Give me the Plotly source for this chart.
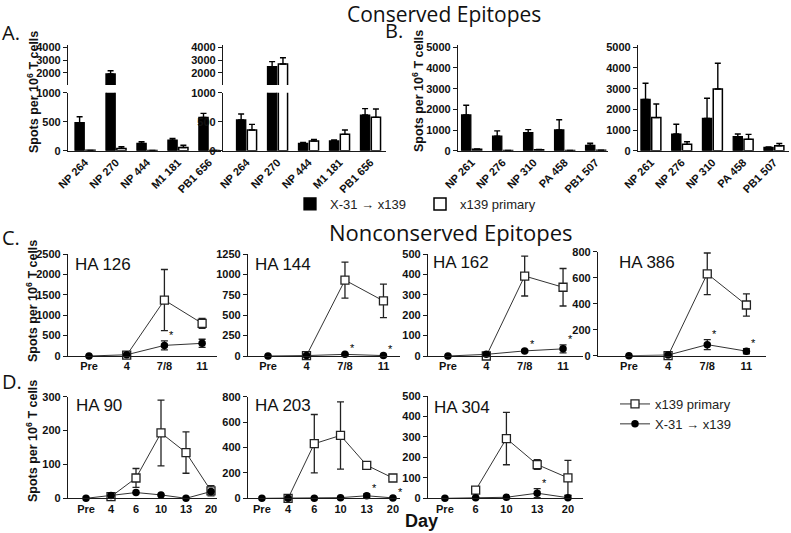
import plotly.graph_objects as go

W, H = 791, 533


def px_x(p):
    return p / W


def px_y(p):
    return 1 - p / H


# ---------------- data ----------------
A_cats = ["NP 264", "NP 270", "NP 444", "M1 181", "PB1 656"]
A1_x31 = [483, 1900, 126, 184, 575]
A1_x31_err = [103, 250, 29, 29, 69]
A1_prim = [6, 40, 4, 55, 4]
A1_prim_err = [0, 29, 0, 40, 0]
A2_x31 = [529, 2470, 126, 167, 615]
A2_x31_err = [103, 400, 18, 17, 110]
A2_prim = [356, 2685, 167, 282, 575]
A2_prim_err = [98, 495, 28, 74, 145]

B_cats = ["NP 261", "NP 276", "NP 310", "PA 458", "PB1 507"]
B1_x31 = [1730, 700, 870, 1000, 260]
B1_x31_err = [470, 260, 150, 500, 100]
B1_prim = [70, 15, 50, 15, 25]
B1_prim_err = [20, 0, 10, 0, 0]
B2_x31 = [2480, 806, 1565, 677, 160]
B2_x31_err = [780, 470, 970, 130, 20]
B2_prim = [1600, 306, 2985, 548, 240]
B2_prim_err = [660, 130, 1240, 240, 110]

A_low_ticks = [0, 500, 1000]
A_up_ticks = [2000, 3000, 4000]
B_ticks = [0, 1000, 2000, 3000, 4000, 5000]

C_days = ["Pre", "4", "7/8", "11"]
HA126_prim = [None, 20, 1370, 800]
HA126_prim_err = [0, 10, 750, 120]
HA126_x31 = [0, 30, 260, 310]
HA126_x31_err = [0, 10, 110, 100]
HA126_stars = ["7/8"]
HA144_prim = [None, 5, 930, 675]
HA144_prim_err = [0, 0, 220, 205]
HA144_x31 = [0, 5, 20, 5]
HA144_x31_err = [0, 0, 10, 5]
HA144_stars = ["7/8", "11"]
HA162_prim = [None, 0, 392, 337]
HA162_prim_err = [0, 0, 98, 92]
HA162_x31 = [0, 8, 25, 35]
HA162_x31_err = [0, 2, 5, 20]
HA162_stars = ["7/8", "11"]
HA386_prim = [None, 0, 630, 390]
HA386_prim_err = [0, 0, 160, 85]
HA386_x31 = [0, 5, 85, 35]
HA386_x31_err = [0, 2, 38, 20]
HA386_stars = ["7/8", "11"]

D_days = ["Pre", "4", "6", "10", "13", "20"]
HA90_prim = [None, 5, 60, 193, 135, 22]
HA90_prim_err = [0, 0, 28, 97, 61, 15]
HA90_x31 = [0, 8, 17, 10, 0, 20]
HA90_x31_err = [0, 0, 0, 0, 0, 0]
HA90_stars = []
HA203_prim = [None, 0, 430, 495, 260, 160]
HA203_prim_err = [0, 0, 230, 265, 22, 15]
HA203_x31 = [0, 0, 0, 5, 20, 3]
HA203_x31_err = [0, 0, 0, 0, 15, 0]
HA203_stars = ["13", "20"]
D2_days = ["Pre", "6", "10", "13", "20"]
HA304_prim = [None, 40, 292, 165, 100]
HA304_prim_err = [0, 0, 128, 24, 85]
HA304_x31 = [0, 3, 5, 25, 3]
HA304_x31_err = [0, 0, 0, 22, 10]
HA304_stars = ["13"]

HA126_ticks = [0, 500, 1000, 1500, 2000, 2500]
HA144_ticks = [0, 250, 500, 750, 1000, 1250]
HA162_ticks = [0, 100, 200, 300, 400, 500]
HA386_ticks = [0, 200, 400, 600, 800]
HA90_ticks = [0, 100, 200, 300]
HA203_ticks = [0, 200, 400, 600, 800]
HA304_ticks = [0, 100, 200, 300, 400, 500]

NAME_X31 = "X-31 \u2192 x139"
NAME_PRIM = "x139 primary"

# ---------------- style ----------------
FONT = "Liberation Sans, Arial, sans-serif"
TITLE_FONT = "Open Sans, Noto Sans, sans-serif"
AXC = "#1a1a1a"
TF = dict(family=FONT, size=11, color="#111111", weight="bold")

fig = go.Figure()
layout = {}


def add_bars(cats, x31, x31e, prim, prime, n, show):
    xa = "x" if n == 1 else "x%d" % n
    ya = "y" if n == 1 else "y%d" % n
    fig.add_trace(go.Bar(
        x=cats, y=x31, xaxis=xa, yaxis=ya, name=NAME_X31,
        marker=dict(color="black", line=dict(color="black", width=1.3)),
        error_y=dict(type="data", array=x31e, arrayminus=[0] * len(x31e), symmetric=False,
                     color="black", thickness=1.4, width=3),
        legend="legend2", legendgroup="bx31", showlegend=show, offsetgroup="a"))
    fig.add_trace(go.Bar(
        x=cats, y=prim, xaxis=xa, yaxis=ya, name=NAME_PRIM,
        marker=dict(color="white", line=dict(color="black", width=1.5)),
        error_y=dict(type="data", array=prime, arrayminus=[0] * len(prime), symmetric=False,
                     color="black", thickness=1.4, width=3),
        legend="legend2", legendgroup="bprim", showlegend=show, offsetgroup="b"))


def add_lines(cats, prim, prime, x31, x31e, n, show):
    xa = "x%d" % n
    ya = "y%d" % n
    fig.add_trace(go.Scatter(
        x=cats, y=prim, xaxis=xa, yaxis=ya, name=NAME_PRIM, mode="lines+markers",
        line=dict(color="#333333", width=1), connectgaps=False,
        marker=dict(symbol="square", size=8, color="white", line=dict(color="#222222", width=1.3)),
        error_y=dict(type="data", array=prime, symmetric=True, color="#222222", thickness=1.3, width=3.5),
        cliponaxis=False, legend="legend", legendgroup="lprim", showlegend=show))
    fig.add_trace(go.Scatter(
        x=cats, y=x31, xaxis=xa, yaxis=ya, name=NAME_X31, mode="lines+markers",
        line=dict(color="#333333", width=1),
        marker=dict(symbol="circle", size=7.5, color="black"),
        error_y=dict(type="data", array=x31e, symmetric=True, color="#222222", thickness=1.3, width=3.5),
        cliponaxis=False, legend="legend", legendgroup="lx31", showlegend=show))


def yaxis(n, top, bottom, rng, ticks, anchor):
    key = "yaxis" if n == 1 else "yaxis%d" % n
    layout[key] = dict(domain=[px_y(bottom), px_y(top)], range=rng, tickvals=ticks,
                       anchor=anchor, showline=True, linecolor=AXC, linewidth=1.3,
                       ticks="outside", ticklen=4, tickwidth=1.3, tickcolor=AXC,
                       tickfont=TF, showgrid=False, zeroline=False, fixedrange=True,
                       automargin=False)


def xaxis(n, left, right, rng, cats, anchor, angle=0, visible=True):
    key = "xaxis" if n == 1 else "xaxis%d" % n
    layout[key] = dict(domain=[px_x(left), px_x(right)], range=rng, type="category",
                       categoryorder="array", categoryarray=cats, anchor=anchor,
                       showline=True, linecolor=AXC, linewidth=1.3, ticks="",
                       tickfont=TF, tickangle=angle, showgrid=False, zeroline=False,
                       visible=visible, fixedrange=True, automargin=False)


# Panel A (broken axes)
add_bars(A_cats, A1_x31, A1_x31_err, A1_prim, A1_prim_err, 1, True)
add_bars(A_cats, A1_x31, A1_x31_err, A1_prim, A1_prim_err, 2, False)
add_bars(A_cats, A2_x31, A2_x31_err, A2_prim, A2_prim_err, 3, False)
add_bars(A_cats, A2_x31, A2_x31_err, A2_prim, A2_prim_err, 4, False)
xaxis(1, 68, 221, [-0.55, 4.39], A_cats, "y", angle=-45)
yaxis(1, 92.7, 150.7, [0, 1000], A_low_ticks, "x")
xaxis(2, 68, 221, [-0.55, 4.39], A_cats, "y2", visible=False)
yaxis(2, 45, 85, [1031, 4181], A_up_ticks, "x2")
xaxis(3, 223, 386, [-0.76, 4.5], A_cats, "y3", angle=-45)
yaxis(3, 92.7, 150.7, [0, 1000], A_low_ticks, "x3")
xaxis(4, 223, 386, [-0.76, 4.5], A_cats, "y4", visible=False)
yaxis(4, 45, 85, [1031, 4181], A_up_ticks, "x4")

# Panel B
add_bars(B_cats, B1_x31, B1_x31_err, B1_prim, B1_prim_err, 5, False)
add_bars(B_cats, B2_x31, B2_x31_err, B2_prim, B2_prim_err, 6, False)
xaxis(5, 458, 608, [-0.44, 4.4], B_cats, "y5", angle=-45)
yaxis(5, 45, 150.7, [0, 5111], B_ticks, "x5")
xaxis(6, 638, 789, [-0.42, 4.49], B_cats, "y6", angle=-45)
yaxis(6, 45, 150.7, [0, 5111], B_ticks, "x6")

# Panels C and D
line_panels = [
    (7, C_days, HA126_prim, HA126_prim_err, HA126_x31, HA126_x31_err, HA126_stars, HA126_ticks,
     (68, 217, [-0.557, 3.395]), (254, 356), "HA 126", (73, 264)),
    (8, C_days, HA144_prim, HA144_prim_err, HA144_x31, HA144_x31_err, HA144_stars, HA144_ticks,
     (248, 400, [-0.52, 3.43]), (254, 356), "HA 144", (253, 264)),
    (9, C_days, HA162_prim, HA162_prim_err, HA162_x31, HA162_x31_err, HA162_stars, HA162_ticks,
     (428, 583, [-0.52, 3.52]), (254, 356), "HA 162", (431, 263)),
    (10, C_days, HA386_prim, HA386_prim_err, HA386_x31, HA386_x31_err, HA386_stars, HA386_ticks,
     (598, 766, [-0.79, 3.5]), (251.7, 355.7), "HA 386", (617, 263)),
    (11, D_days, HA90_prim, HA90_prim_err, HA90_x31, HA90_x31_err, HA90_stars, HA90_ticks,
     (68, 217, [-0.72, 5.24]), (396.7, 498.3), "HA 90", (74, 405)),
    (12, D_days, HA203_prim, HA203_prim_err, HA203_x31, HA203_x31_err, HA203_stars, HA203_ticks,
     (248, 400, [-0.53, 5.27]), (396.7, 498.3), "HA 203", (253, 405)),
    (13, D2_days, HA304_prim, HA304_prim_err, HA304_x31, HA304_x31_err, HA304_stars, HA304_ticks,
     (428, 583, [-0.55, 4.49]), (396, 498.3), "HA 304", (432, 407)),
]

annotations = []
for (n, cats, prim, prime, x31, x31e, stars, ticks, xd, yd, label, lpos) in line_panels:
    add_lines(cats, prim, prime, x31, x31e, n, n == 10)
    xaxis(n, xd[0], xd[1], xd[2], cats, "y%d" % n)
    yaxis(n, yd[0], yd[1], [0, ticks[-1]], ticks, "x%d" % n)
    annotations.append(dict(text=label, x=px_x(lpos[0]), y=px_y(lpos[1]), xref="paper", yref="paper",
                            xanchor="left", yanchor="middle", showarrow=False,
                            font=dict(family=FONT, size=17, color="#111111")))
    for s in stars:
        i = cats.index(s)
        annotations.append(dict(text="*", x=i, y=x31[i] + x31e[i], xref="x%d" % n, yref="y%d" % n,
                                xanchor="left", yanchor="bottom", xshift=3, yshift=-2, showarrow=False,
                                font=dict(family=FONT, size=11, color="#000000")))

# Text labels
ytitle = "Spots per 10<sup>6</sup> T cells"
for (xx, yy) in [(33, 92), (418, 91), (32, 301), (32, 441)]:
    annotations.append(dict(text=ytitle, x=px_x(xx), y=px_y(yy), xref="paper", yref="paper",
                            textangle=-90, showarrow=False, xanchor="center", yanchor="middle",
                            font=dict(family=FONT, size=12.5, color="#111111", weight="bold")))
for (t, xx, yy) in [("A.", 0, 33), ("B.", 383, 31), ("C.", 0, 238), ("D.", 0, 381)]:
    annotations.append(dict(text=t, x=px_x(xx), y=px_y(yy), xref="paper", yref="paper",
                            showarrow=False, xanchor="left", yanchor="middle",
                            font=dict(family=TITLE_FONT, size=20, color="#111111")))
annotations.append(dict(text="Conserved Epitopes", x=px_x(444), y=px_y(13.5), xref="paper", yref="paper",
                        showarrow=False, xanchor="center", yanchor="middle",
                        font=dict(family=TITLE_FONT, size=21, color="#111111")))
annotations.append(dict(text="Nonconserved Epitopes", x=px_x(451), y=px_y(232), xref="paper", yref="paper",
                        showarrow=False, xanchor="center", yanchor="middle",
                        font=dict(family=TITLE_FONT, size=22, color="#111111")))
annotations.append(dict(text="Day", x=px_x(421), y=px_y(521), xref="paper", yref="paper",
                        showarrow=False, xanchor="center", yanchor="middle",
                        font=dict(family=FONT, size=18, color="#111111", weight="bold")))

layout.update(dict(
    template="none",
    width=W, height=H, autosize=False,
    margin=dict(l=0, r=0, t=0, b=0, pad=0, autoexpand=False),
    paper_bgcolor="white", plot_bgcolor="white",
    font=dict(family=FONT, color="#111111"),
    barmode="group", bargap=0.3, bargroupgap=0.15,
    annotations=annotations,
    legend=dict(x=px_x(615), y=px_y(389), xanchor="left", yanchor="top",
                font=dict(family=FONT, size=13, color="#222222"), bgcolor="rgba(0,0,0,0)",
                orientation="v", tracegroupgap=0),
    legend2=dict(x=px_x(290), y=px_y(204), xanchor="left", yanchor="middle",
                 font=dict(family=FONT, size=13, color="#222222"), bgcolor="rgba(0,0,0,0)",
                 orientation="h", entrywidth=85, entrywidthmode="pixels"),
    showlegend=True,
))
fig.update_layout(layout)
fig.write_html("out.html", config={"displayModeBar": False, "staticPlot": False},
               post_script="document.body.style.margin='0px';document.body.style.overflow='hidden';")
